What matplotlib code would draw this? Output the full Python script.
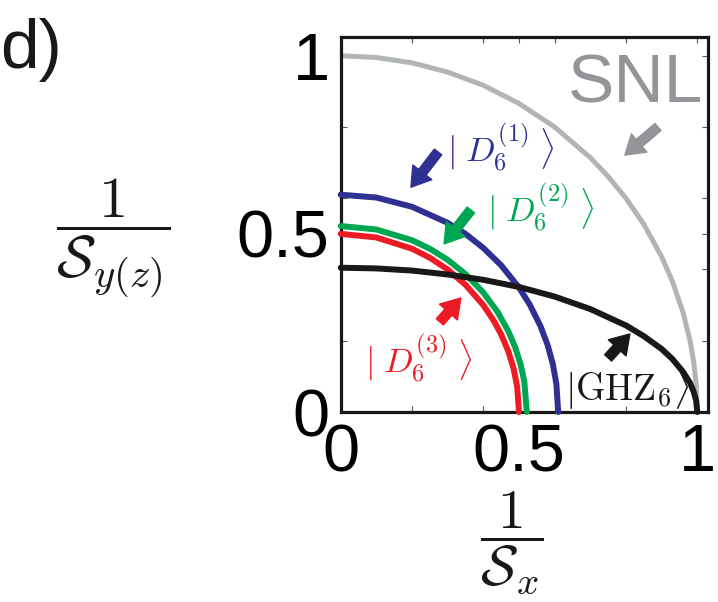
import matplotlib
matplotlib.use("Agg")
import matplotlib.pyplot as plt

plt.rcParams['mathtext.fontset'] = 'cm'

# ---- data ----
snl_x = [0, 0.1, 0.2, 0.3, 0.4, 0.5, 0.6, 0.7, 0.75, 0.8, 0.85, 0.9, 0.93, 0.96, 0.98, 0.99, 0.997, 1.0]
snl_y = [1.0, 0.995, 0.980, 0.954, 0.917, 0.866, 0.800, 0.714, 0.661, 0.600, 0.527, 0.436, 0.368, 0.280, 0.199, 0.141, 0.077, 0.0]

d1_x = [0, 0.1, 0.2, 0.3, 0.35, 0.4, 0.45, 0.5, 0.53, 0.56, 0.58, 0.595, 0.605, 0.61]
d1_y = [0.610, 0.602, 0.576, 0.531, 0.500, 0.4605, 0.4118, 0.3494, 0.302, 0.2419, 0.189, 0.1344, 0.0779, 0.0]

d2_x = [0, 0.1, 0.2, 0.25, 0.3, 0.35, 0.4, 0.44, 0.47, 0.49, 0.505, 0.515, 0.522]
d2_y = [0.522, 0.5123, 0.4822, 0.4583, 0.4272, 0.3873, 0.3354, 0.2809, 0.2272, 0.180, 0.1322, 0.0853, 0.0]

d3_x = [0, 0.1, 0.2, 0.25, 0.3, 0.35, 0.4, 0.43, 0.45, 0.47, 0.485, 0.495, 0.5]
d3_y = [0.5, 0.4899, 0.4583, 0.433, 0.4, 0.3571, 0.3, 0.2551, 0.2179, 0.1706, 0.1216, 0.0705, 0.0]

ghz_x = [0, 0.1, 0.2, 0.3, 0.4, 0.5, 0.6, 0.7, 0.8, 0.85, 0.9, 0.93, 0.96, 0.98, 0.99, 0.997, 1.0]
ghz_y = [0.405, 0.403, 0.397, 0.386, 0.371, 0.351, 0.324, 0.289, 0.243, 0.213, 0.177, 0.149, 0.113, 0.081, 0.057, 0.031, 0.0]

tick_vals = [0, 0.2, 0.4, 0.5, 0.6, 0.8, 1]
tick_labels = ['0', '', '', '0.5', '', '', '1']

# colours
c_snl = '#b1b5b5'
c_snl_txt = '#939598'
c_d1 = '#2e3192'
c_d2 = '#00a651'
c_d3 = '#ed1c24'
c_ghz = '#1a1718'

fig = plt.figure(figsize=(7.18, 6.02), dpi=100)
ax = fig.add_axes([0.4745, 0.3156, 0.5115, 0.6229])

lw = 4.3
ax.plot(snl_x, snl_y, color=c_snl, lw=3.6, solid_capstyle='butt', clip_on=False, zorder=2)
ax.plot(d1_x, d1_y, color=c_d1, lw=lw, solid_capstyle='round', clip_on=False, zorder=3)
ax.plot(d2_x, d2_y, color=c_d2, lw=lw, solid_capstyle='round', clip_on=False, zorder=3)
ax.plot(d3_x, d3_y, color=c_d3, lw=lw, solid_capstyle='round', clip_on=False, zorder=3)
ax.plot(ghz_x, ghz_y, color=c_ghz, lw=lw, solid_capstyle='round', clip_on=False, zorder=4)

ax.set_xlim(0, 1.03)
ax.set_ylim(0, 1.0525)
ax.set_xticks(tick_vals)
ax.set_xticklabels(tick_labels)
ax.set_yticks(tick_vals)
ax.set_yticklabels(tick_labels)
ax.tick_params(direction='in', length=4, width=0.8, color='#555555',
               top=True, right=True, labelsize=48, pad=8)
for lab in ax.get_xticklabels() + ax.get_yticklabels():
    lab.set_family('Liberation Sans')
for s in ax.spines.values():
    s.set_linewidth(2.3)
    s.set_color('#1a1718')

# labels on the curves
ax.text(0.637, 0.918, 'SNL', color=c_snl_txt, fontsize=50, family='Liberation Sans',
        ha='left', va='center')
ax.text(0.298, 0.744, r'$|\;D_6^{(1)}\;\rangle$', color=c_d1, fontsize=25, ha='left', va='center')
ax.text(0.410, 0.575, r'$|\;D_6^{(2)}\;\rangle$', color=c_d2, fontsize=25, ha='left', va='center')
ax.text(0.069, 0.152, r'$|\;D_6^{(3)}\;\rangle$', color=c_d3, fontsize=25, ha='left', va='center')
ax.text(0.629, 0.067, r'$|\mathrm{GHZ}_6\rangle$', color=c_ghz, fontsize=27, ha='left', va='center')

def arrow(tail, tip, col):
    ax.annotate('', xy=tip, xytext=tail,
                arrowprops=dict(arrowstyle='simple,head_length=0.9,head_width=1.15,tail_width=0.45',
                                color=col, shrinkA=0, shrinkB=0, mutation_scale=15))

arrow((0.890, 0.800), (0.797, 0.721), c_snl_txt)
arrow((0.273, 0.730), (0.197, 0.631), c_d1)
arrow((0.365, 0.567), (0.290, 0.472), c_d2)
arrow((0.278, 0.253), (0.337, 0.320), c_d3)
arrow((0.750, 0.152), (0.811, 0.219), c_ghz)

# axis labels
fig.text(113 / 718, 1 - 238 / 602, r'$\dfrac{1}{\mathcal{S}_{y(z)}}$', fontsize=42,
         ha='center', va='center', color='#1a1718')
fig.text(512 / 718, 1 - 543 / 602, r'$\dfrac{1}{\mathcal{S}_{x}}$', fontsize=40,
         ha='center', va='center', color='#1a1718')

fig.text(0.0, 1 - 68 / 602, 'd)', fontsize=50, family='Liberation Sans',
         ha='left', va='baseline', color='#1a1718')

fig.savefig('out.png', dpi=100)
